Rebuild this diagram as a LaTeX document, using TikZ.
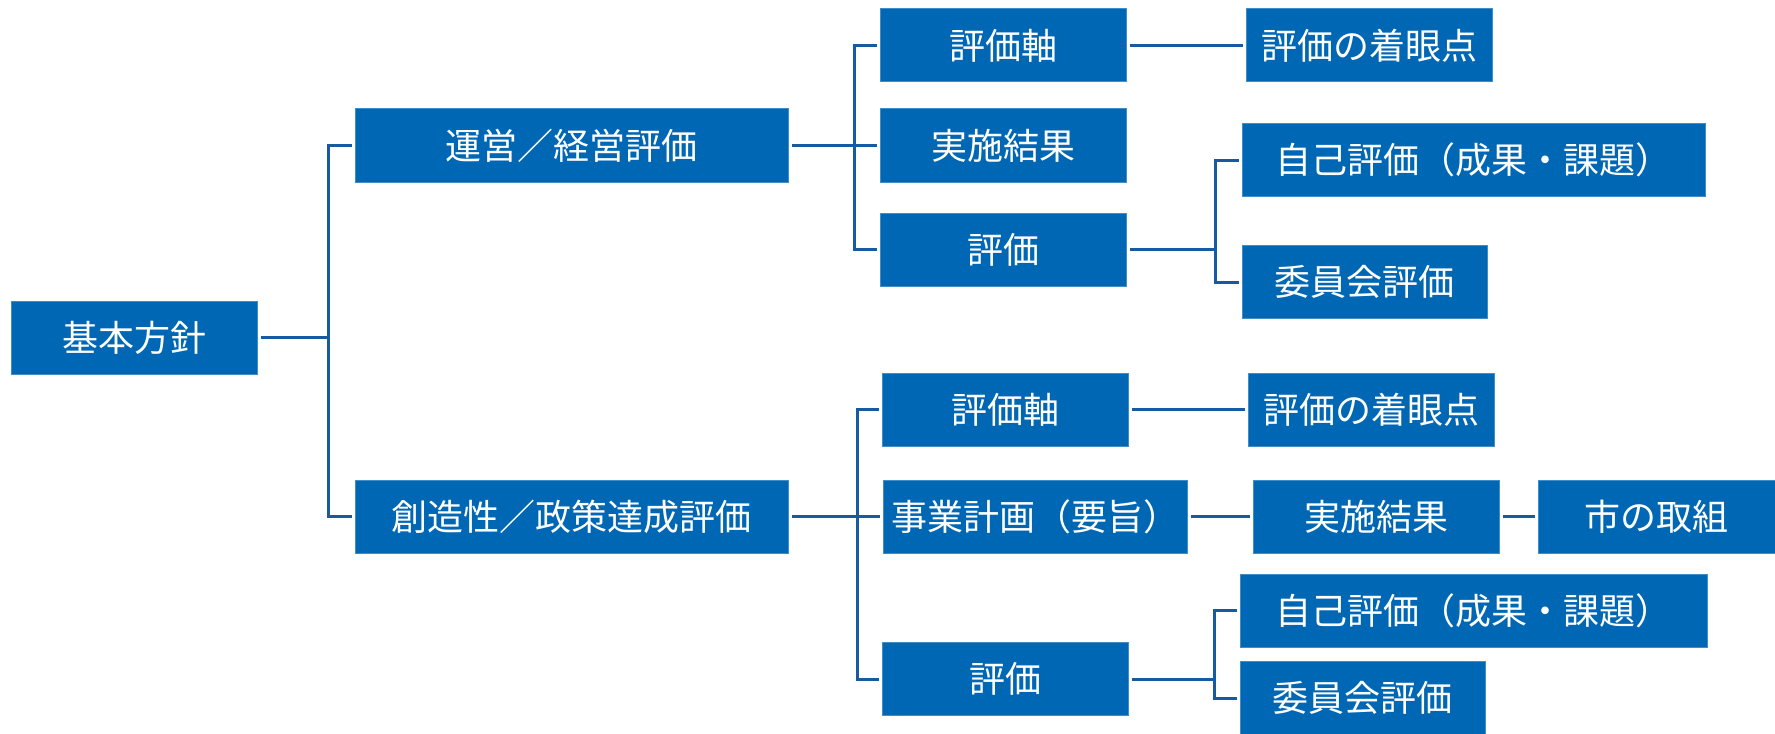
\documentclass[tikz,border=0pt]{standalone}
\usepackage{fontspec}
\newfontfamily\jpfont{Noto Sans CJK JP}
\definecolor{boxblue}{RGB}{0,103,180}
\definecolor{lineblue}{RGB}{24,90,160}

\begin{document}
\begin{tikzpicture}[x=0.5pt,y=-0.5pt]
  \tikzstyle{module}=[rectangle,draw=boxblue!75,line width=0.5pt,fill=boxblue,text=white,minimum height=36.5pt,minimum width=123pt,inner sep=1pt,font=\jpfont\fontsize{18}{20}\selectfont]
  \tikzstyle{link}=[draw=lineblue,line width=1.5pt]
  \tikzstyle{fromnode}=[link,shorten <=1.5pt]
  \tikzstyle{tonode}=[link,shorten >=1.5pt]

  \useasboundingbox (0,0) rectangle (1775,733);

  \node[module] (kihon) at (134,337.5) {基本方針};
  \node[module, minimum width=216.5pt] (unei) at (571.5,145.5) {運営／経営評価};
  \node[module, minimum width=216.5pt] (sozo) at (571.5,516.5) {創造性／政策達成評価};

  % upper branch
  \node[module] (jiku1) at (1003,45.5) {評価軸};
  \node[module] (jisshi1) at (1003,145.5) {実施結果};
  \node[module] (hyoka1) at (1003,249.5) {評価};
  \node[module] (chakugan1) at (1369,45.5) {評価の着眼点};
  \node[module, minimum width=231.5pt] (jiko1) at (1473.5,160) {自己評価（成果・課題）};
  \node[module, minimum width=122.5pt] (iinkai1) at (1364.5,282) {委員会評価};

  % lower branch
  \node[module] (jiku2) at (1005.5,409.5) {評価軸};
  \node[module, minimum width=152pt] (jigyo) at (1035,516.5) {事業計画（要旨）};
  \node[module] (hyoka2) at (1005,679) {評価};
  \node[module] (chakugan2) at (1371.5,409.5) {評価の着眼点};
  \node[module] (jisshi2) at (1376,516.5) {実施結果};
  \node[module, minimum width=118.5pt] (shi) at (1656.5,516.5) {市の取組};
  \node[module, minimum width=233.5pt] (jiko2) at (1473.5,610.5) {自己評価（成果・課題）};
  \node[module, minimum width=122.5pt] (iinkai2) at (1362.5,698) {委員会評価};

  \coordinate (j1) at (328,337.5);
  \coordinate (j2) at (854,145.5);
  \coordinate (j3) at (857,516.5);
  \coordinate (j4) at (1215,249.5);
  \coordinate (j5) at (1214,679);

  \draw[fromnode] (kihon.east) -- (j1);
  \draw[tonode] (j1) |- (unei.west);
  \draw[tonode] (j1) |- (sozo.west);

  \draw[fromnode] (unei.east) -- (j2);
  \draw[tonode] (j2) |- (jiku1.west);
  \draw[tonode] (j2) -- (jisshi1.west);
  \draw[tonode] (j2) |- (hyoka1.west);
  \draw[fromnode,tonode] (jiku1.east) -- (chakugan1.west);
  \draw[fromnode] (hyoka1.east) -- (j4);
  \draw[tonode] (j4) |- (jiko1.west);
  \draw[tonode] (j4) |- (iinkai1.west);

  \draw[fromnode] (sozo.east) -- (j3);
  \draw[tonode] (j3) |- (jiku2.west);
  \draw[tonode] (j3) -- (jigyo.west);
  \draw[tonode] (j3) |- (hyoka2.west);
  \draw[fromnode,tonode] (jiku2.east) -- (chakugan2.west);
  \draw[fromnode,tonode] (jigyo.east) -- (jisshi2.west);
  \draw[fromnode,tonode] (jisshi2.east) -- (shi.west);
  \draw[fromnode] (hyoka2.east) -- (j5);
  \draw[tonode] (j5) |- (jiko2.west);
  \draw[tonode] (j5) |- (iinkai2.west);
\end{tikzpicture}
\end{document}
